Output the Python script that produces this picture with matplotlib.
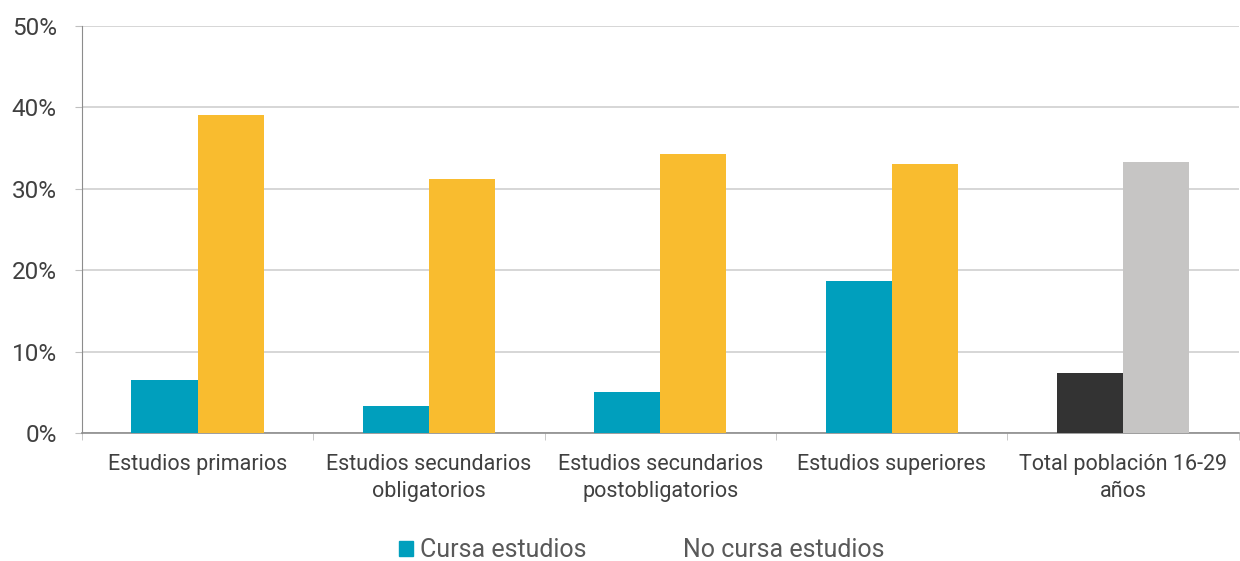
import matplotlib.pyplot as plt
import numpy as np
from matplotlib.patches import Patch

plt.rcParams['font.family'] = ['Roboto', 'DejaVu Sans']

categories = ['Estudios primarios', 'Estudios secundarios\nobligatorios',
              'Estudios secundarios\npostobligatorios', 'Estudios superiores',
              'Total población 16-29\naños']
cursa = [6.5, 3.3, 5.0, 18.7, 7.4]
no_cursa = [39.1, 31.2, 34.3, 33.0, 33.3]

cursa_colors = ['#009fbd'] * 4 + ['#333333']
no_cursa_colors = ['#f9bc2f'] * 4 + ['#c6c5c4']

fig, ax = plt.subplots(figsize=(12.4, 5.61), dpi=100)
fig.subplots_adjust(left=0.066, right=0.999, top=0.954, bottom=0.228)

x = np.arange(len(categories))
w = 0.286
ax.bar(x - w / 2, cursa, w, color=cursa_colors, zorder=3)
ax.bar(x + w / 2, no_cursa, w, color=no_cursa_colors, zorder=3)

ax.set_xlim(-0.5, len(categories) - 0.5)
ax.set_ylim(0, 50)
ax.set_yticks(range(0, 51, 10))
ax.set_yticklabels([f'{v}%' for v in range(0, 51, 10)])
ax.set_xticks(x)
ax.set_xticklabels(categories, linespacing=1.35)
ax.set_xticks(np.arange(-0.5, len(categories)), minor=True)
ax.tick_params(axis='x', which='major', length=0, pad=15, labelsize=15.5, labelcolor='#404040')
ax.tick_params(axis='x', which='minor', length=5, color='#bfbfbf')
ax.tick_params(axis='y', length=5, color='#bfbfbf', labelsize=17.5, labelcolor='#404040', pad=13)

ax.grid(axis='y', color='#d0d0d0', linewidth=1.2, zorder=0)
for s in ['top', 'right']:
    ax.spines[s].set_visible(False)
ax.spines['left'].set_color('#8c8c8c')
ax.spines['bottom'].set_color('#8c8c8c')
ax.spines['bottom'].set_linewidth(1.2)

handles = [Patch(color='#009fbd'), Patch(color='white')]
fig.legend(handles, ['Cursa estudios', 'No cursa estudios'], loc='lower center',
           bbox_to_anchor=(0.5175, -0.0425), ncol=2, frameon=False, fontsize=18,
           labelcolor='#595959', columnspacing=3.0, handlelength=0.55,
           handleheight=0.55, handletextpad=0.3)

fig.savefig('out.png', dpi=100)
